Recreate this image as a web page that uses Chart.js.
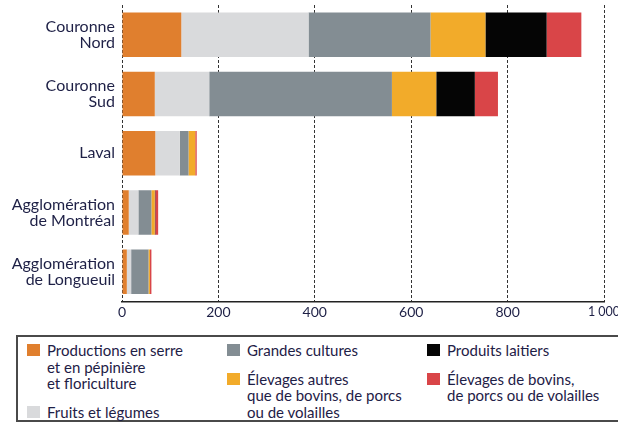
<!DOCTYPE html>
<html>
<head>
<meta charset="utf-8">
<script src="https://cdn.jsdelivr.net/npm/chart.js"></script>
<style>
body{margin:0;background:#fff;width:618px;height:425px;overflow:hidden;position:relative;font-family:Lato,"Open Sans",sans-serif;color:#1e2046}
#wrap{position:absolute;left:0;top:0;width:618px;height:330px}
#legend{position:absolute;left:16px;top:335px;width:610px;height:87px;border:2px solid #4a4a4a;box-sizing:border-box}
.col{position:absolute;top:5px}
.item{position:relative;padding-left:29px;font-size:15px;line-height:16.5px;margin-bottom:12px}
.sw{position:absolute;left:9px;top:2px;width:13px;height:12px}
</style>
</head>
<body>

<div id="wrap"><canvas id="chart"></canvas></div>
<div id="legend"></div>

<script>
/* =========================
   DATA
========================= */
const regions = [
  ["Couronne", "Nord"],
  ["Couronne", "Sud"],
  "Laval",
  ["Agglomération", "de Montréal"],
  ["Agglomération", "de Longueuil"]
];

const serre     = [123, 68, 69, 14, 10];
const fruits    = [264, 113, 51, 20, 9];
const grandes   = [253, 379, 18, 27, 36];
const elevAutres= [114, 92, 14, 7, 3];
const laitiers  = [127, 80, 0, 1, 0];
const bovins    = [72, 48, 3, 6, 3];

const xTicks = ["0", "200", "400", "600", "800", "1 000"];

const seriesNames = [
  ["Productions en serre", "et en pépinière", "et floriculture"],
  ["Fruits et légumes"],
  ["Grandes cultures"],
  ["Élevages autres", "que de bovins, de porcs", "ou de volailles"],
  ["Produits laitiers"],
  ["Élevages de bovins,", "de porcs ou de volailles"]
];
const seriesColors = ["#e07f2e", "#d9dadc", "#838d93", "#f2ab2a", "#050505", "#d94548"];
const seriesData = [serre, fruits, grandes, elevAutres, laitiers, bovins];

/* =========================
   CHART
========================= */
const textColor = "#1e2046";

const chart = new Chart(document.getElementById("chart"), {
  type: "bar",
  data: {
    labels: regions,
    datasets: seriesData.map((d, i) => ({
      label: seriesNames[i].join(" "),
      data: d,
      backgroundColor: seriesColors[i],
      borderWidth: 0,
      barPercentage: 0.75,
      categoryPercentage: 1
    }))
  },
  options: {
    indexAxis: "y",
    responsive: false,
    animation: false,
    maintainAspectRatio: false,
    layout: {padding: {top: 5, right: 14, left: 0, bottom: 0}},
    plugins: {legend: {display: false}, tooltip: {enabled: false}},
    scales: {
      x: {
        stacked: true,
        min: 0,
        max: 1000,
        ticks: {
          stepSize: 200,
          color: textColor,
          // last label is a bit smaller so "1 000" fits the right edge
          font: ctx => ({family: "Lato", size: ctx.index === xTicks.length - 1 ? 12.5 : 14}),
          padding: 3,
          maxRotation: 0,
          callback: (v, i) => xTicks[i]
        },
        grid: {color: "#333", lineWidth: 1, drawTicks: false},
        border: {display: true, color: "#222", width: 1.5, dash: [3, 2]},
        afterFit: s => { s.height = 28.5; s.paddingLeft = 0; s.paddingRight = 0; }
      },
      y: {
        stacked: true,
        ticks: {
          color: textColor,
          font: {family: "Lato", size: 16, lineHeight: 1.0},
          padding: 7
        },
        grid: {display: false, drawTicks: false},
        border: {display: false},
        afterFit: s => { s.width = 122; s.paddingTop = 0; s.paddingBottom = 0; }
      }
    }
  }
});
chart.canvas.style.width = "618px";
chart.resize(618, 330);

/* =========================
   LEGEND (from datasets)
========================= */
const legend = document.getElementById("legend");
for (let c = 0; c < 3; c++) {
  const col = document.createElement("div");
  col.className = "col";
  col.style.left = (c * 200) + "px";
  [c * 2, c * 2 + 1].forEach(i => {
    const ds = chart.data.datasets[i];
    const it = document.createElement("div");
    it.className = "item";
    it.innerHTML = '<span class="sw" style="background:' + ds.backgroundColor + '"></span>' +
      seriesNames[i].join("<br>");
    col.appendChild(it);
  });
  legend.appendChild(col);
}
</script>

</body>
</html>
